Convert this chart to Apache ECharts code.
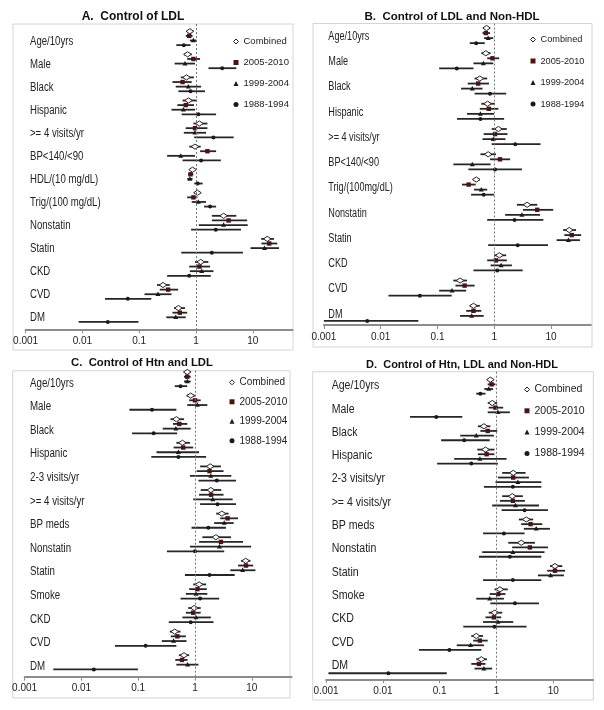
<!DOCTYPE html>
<html>
<head>
<meta charset="utf-8">
<script src="https://cdn.jsdelivr.net/npm/echarts@6/dist/echarts.min.js"></script>
<style>
html, body { margin: 0; padding: 0; background: #fff; }
#main { width: 604px; height: 710px; }
</style>
</head>
<body>
<div id="main"></div>
<script>
// 类别
var catsA = ['Age/10yrs', 'Male', 'Black', 'Hispanic', '>= 4 visits/yr', 'BP<140/<90', 'HDL/(10 mg/dL)', 'Trig/(100 mg/dL)', 'Nonstatin', 'Statin', 'CKD', 'CVD', 'DM'];
var catsB = ['Age/10yrs', 'Male', 'Black', 'Hispanic', '>= 4 visits/yr', 'BP<140/<90', 'Trig/(100mg/dL)', 'Nonstatin', 'Statin', 'CKD', 'CVD', 'DM'];
var catsC = ['Age/10yrs', 'Male', 'Black', 'Hispanic', '2-3 visits/yr', '>= 4 visits/yr', 'BP meds', 'Nonstatin', 'Statin', 'Smoke', 'CKD', 'CVD', 'DM'];
var catsD = ['Age/10yrs', 'Male', 'Black', 'Hispanic', '2-3 visits/yr', '>= 4 visits/yr', 'BP meds', 'Nonstatin', 'Statin', 'Smoke', 'CKD', 'CVD', 'DM'];

var periods = ['Combined', '2005-2010', '1999-2004', '1988-1994'];
var tickVals = [0.001, 0.01, 0.1, 1, 10];
var tickLabels = ['0.001', '0.01', '0.1', '1', '10'];

// [OR, lower, upper]
// A. Control of LDL
var aComb = [[0.78,0.70,0.90],[0.71,0.61,0.84],[0.68,0.54,0.92],[0.74,0.58,1.03],[1.15,0.90,1.59],[0.96,0.76,1.21],[0.87,0.80,0.96],[1.06,0.93,1.18],[3.06,1.90,5.13],[17.96,14.06,23.6],[1.21,0.96,1.65],[0.263,0.206,0.345],[0.49,0.41,0.64]];
var a2005 = [[0.76,0.66,0.87],[0.90,0.70,1.18],[0.58,0.385,0.84],[0.66,0.47,0.92],[0.96,0.66,1.59],[1.59,1.18,2.26],[0.80,0.73,0.90],[0.90,0.70,1.06],[3.75,1.90,7.94],[19.5,14.2,27.0],[1.15,0.76,1.77],[0.323,0.23,0.486],[0.52,0.385,0.70]];
var a1999 = [[0.90,0.78,1.03],[0.64,0.42,0.96],[0.73,0.44,1.23],[0.60,0.37,0.96],[0.96,0.61,1.50],[0.54,0.31,0.96],[0.78,0.70,0.87],[1.10,0.84,1.50],[3.06,1.12,8.15],[16.1,9.1,29.0],[1.26,0.78,2.03],[0.214,0.124,0.37],[0.44,0.30,0.66]];
var a1988 = [[0.61,0.45,0.80],[2.89,1.66,5.13],[0.80,0.49,1.44],[1.10,0.56,2.26],[2.03,0.93,4.60],[1.23,0.58,2.74],[1.07,0.93,1.31],[1.77,1.39,2.26],[2.23,0.82,6.2],[1.90,0.55,6.7],[0.76,0.31,1.82],[0.063,0.025,0.163],[0.028,0.0086,0.097]];

// B. Control of LDL and Non-HDL
var bComb = [[0.73,0.65,0.81],[0.71,0.59,0.86],[0.555,0.45,0.75],[0.76,0.59,1.03],[1.18,0.90,1.66],[0.78,0.57,1.07],[0.48,0.42,0.555],[3.78,2.5,5.7],[20.9,16.3,27.5],[1.23,0.99,1.62],[0.25,0.19,0.33],[0.43,0.37,0.555]];
var b2005 = [[0.71,0.62,0.84],[0.93,0.75,1.22],[0.52,0.34,0.81],[0.80,0.555,1.18],[1.03,0.65,1.71],[1.26,0.84,1.90],[0.353,0.27,0.47],[5.7,3.2,10.9],[23.1,17.1,33.8],[1.07,0.75,1.66],[0.30,0.207,0.45],[0.43,0.32,0.59]];
var b1999 = [[0.78,0.66,0.96],[0.64,0.43,0.96],[0.41,0.26,0.62],[0.57,0.33,0.99],[0.96,0.62,1.57],[0.41,0.19,0.86],[0.59,0.44,0.75],[3.07,1.55,6.4],[20.2,12.5,32.2],[1.32,0.86,2.04],[0.18,0.107,0.32],[0.40,0.25,0.65]];
var b1988 = [[0.48,0.37,0.68],[0.218,0.107,0.43],[0.84,0.45,1.62],[0.57,0.22,1.49],[2.34,0.90,6.5],[1.03,0.35,3.07],[0.65,0.39,0.99],[2.27,0.75,7.3],[2.58,0.78,8.83],[1.13,0.43,3.16],[0.049,0.0137,0.178],[0.0058,0.001,0.046]];

// C. Control of Htn and LDL
var cComb = [[0.73,0.66,0.815],[0.84,0.71,1.0],[0.47,0.37,0.64],[0.60,0.47,0.815],[1.85,1.23,2.86],[1.90,1.26,2.9],[2.97,2.36,3.9],[2.33,1.35,4.3],[7.8,6.47,9.46],[1.18,0.93,1.57],[0.97,0.76,1.26],[0.44,0.36,0.556],[0.64,0.52,0.79]];
var c2005 = [[0.73,0.64,0.84],[1.0,0.79,1.26],[0.53,0.41,0.73],[0.62,0.42,0.93],[1.80,1.07,3.18],[1.92,1.18,3.18],[3.75,2.78,5.73],[2.86,1.18,7.0],[7.9,5.73,10.6],[1.10,0.79,1.61],[0.93,0.69,1.26],[0.49,0.375,0.69],[0.59,0.45,0.74]];
var c1999 = [[0.73,0.64,0.84],[1.10,0.73,1.65],[0.46,0.27,0.84],[0.51,0.21,1.18],[1.90,0.815,4.36],[2.06,0.93,4.6],[3.27,2.17,4.8],[2.7,0.815,9.7],[6.9,4.18,11.6],[1.04,0.69,1.65],[1.04,0.60,1.9],[0.42,0.26,0.71],[0.74,0.47,1.15]];
var c1988 = [[0.556,0.44,0.73],[0.175,0.07,0.47],[0.187,0.078,0.486],[0.51,0.17,1.57],[2.42,1.15,5.27],[2.49,1.23,5.27],[1.72,0.87,3.5],[1.0,0.32,3.27],[1.8,0.665,5.0],[1.23,0.556,2.67],[0.84,0.345,2.12],[0.135,0.039,0.47],[0.0166,0.0032,0.099]];

// D. Control of Htn, LDL and Non-HDL
var dComb = [[0.78,0.70,0.87],[0.84,0.70,1.03],[0.60,0.47,0.78],[0.64,0.46,0.92],[1.97,1.26,3.25],[1.89,1.26,2.91],[3.34,2.48,4.43],[2.72,1.61,4.75],[10.7,8.74,14.4],[1.15,0.92,1.58],[0.93,0.73,1.26],[0.44,0.36,0.58],[0.54,0.44,0.68]];
var d2005 = [[0.82,0.70,0.96],[0.96,0.73,1.31],[0.70,0.52,1.03],[0.67,0.47,0.92],[1.97,1.06,3.72],[1.94,1.15,3.16],[3.98,2.72,6.4],[3.87,1.89,8.05],[10.7,7.8,16.1],[1.07,0.76,1.44],[0.90,0.64,1.21],[0.51,0.39,0.70],[0.49,0.36,0.64]];
var d1999 = [[0.73,0.61,0.87],[1.06,0.70,1.72],[0.44,0.23,0.90],[0.51,0.18,1.5],[2.38,0.96,6.15],[2.16,0.84,5.6],[5.0,3.03,8.74],[1.94,0.56,7.0],[8.95,5.36,15.4],[0.76,0.44,1.35],[1.06,0.58,1.97],[0.35,0.20,0.60],[0.60,0.41,0.84]];
var d1988 = [[0.52,0.44,0.64],[0.087,0.03,0.25],[0.27,0.106,0.76],[0.36,0.09,1.06],[1.94,0.60,6.15],[3.12,1.23,8.05],[1.35,0.58,3.12],[1.72,0.49,6.15],[1.94,0.58,6.15],[2.11,0.78,5.6],[0.92,0.26,3.38],[0.148,0.043,0.54],[0.0125,0.0011,0.133]];

var font = "'Liberation Sans', Arial, sans-serif";

// 每个小图的布局
var panels = [
    { title: 'A.  Control of LDL', cats: catsA, data: [aComb, a2005, a1999, a1988],
      grid: { left: 25.6, top: 24, width: 266.9, height: 305.3 }, yMin: -0.316, yMax: 12.92,
      labOff: 0.43, labDx: 4.4, labScale: 0.8, legFont: 9.5, frame: [13, 24, 280, 326], tx: 133, ty: 17, tsize: 12,
      legend: { left: 233, top: 36.5, gap: 11 } },
    { title: 'B.  Control of LDL and Non-HDL', cats: catsB, data: [bComb, b2005, b1999, b1988],
      grid: { left: 323.9, top: 23.5, width: 266.9, height: 301.5 }, yMin: -0.178, yMax: 11.76,
      labOff: 0.34, labDx: 4.4, labScale: 0.76, legFont: 9.2, frame: [313, 23.5, 279, 323.5], tx: 452, ty: 17, tsize: 11.5,
      legend: { left: 530, top: 34.5, gap: 11.5 } },
    { title: 'C.  Control of Htn and LDL', cats: catsC, data: [cComb, c2005, c1999, c1988],
      grid: { left: 24.6, top: 370.7, width: 266.9, height: 306 }, yMin: -0.055, yMax: 12.91,
      labOff: 0.48, labDx: 5.4, labScale: 0.81, legFont: 10, frame: [12.7, 370.7, 277.3, 327.3], tx: 142, ty: 363, tsize: 11.3,
      legend: { left: 229, top: 377.3, gap: 9.5 } },
    { title: 'D.  Control of Htn, LDL and Non-HDL', cats: catsD, data: [dComb, d2005, d1999, d1988],
      grid: { left: 326.1, top: 371.7, width: 266.9, height: 307.6 }, yMin: -0.343, yMax: 12.86,
      labOff: 0.27, labDx: 5.6, labScale: 0.88, legFont: 10.5, frame: [312.7, 371.7, 280.6, 328.3], tx: 462, ty: 365, tsize: 11,
      legend: { left: 524, top: 384, gap: 10.3 } }
];

var markColor = ['#fff', '#4d1212', '#1a1a1a', '#1a1a1a'];

function marker(k, x, y) {
    if (k === 0) {
        return { type: 'polygon', shape: { points: [[x - 3.8, y], [x, y - 2.6], [x + 3.8, y], [x, y + 2.6]] },
                 style: { fill: '#fff', stroke: '#222', lineWidth: 1 } };
    }
    if (k === 1) {
        return { type: 'rect', shape: { x: x - 2.2, y: y - 2.2, width: 4.4, height: 4.4 }, style: { fill: markColor[1] } };
    }
    if (k === 2) {
        return { type: 'polygon', shape: { points: [[x, y - 2.7], [x + 2.5, y + 1.8], [x - 2.5, y + 1.8]] }, style: { fill: markColor[2] } };
    }
    return { type: 'circle', shape: { cx: x, cy: y, r: 2 }, style: { fill: markColor[3] } };
}

function errRender(k) {
    return function (params, api) {
        var y = api.value(3);
        var p = api.coord([api.value(0), y]);
        var a = api.coord([api.value(1), y]);
        var b = api.coord([api.value(2), y]);
        return {
            type: 'group',
            children: [
                { type: 'line', shape: { x1: a[0], y1: a[1], x2: b[0], y2: b[1] }, style: { stroke: '#262626', lineWidth: 1.8 } },
                marker(k, p[0], p[1])
            ]
        };
    };
}

var grids = [], xAxes = [], yAxes = [], series = [], legends = [], graphics = [];

panels.forEach(function (pn, g) {
    grids.push(pn.grid);

    xAxes.push({
        gridIndex: g, type: 'log', logBase: 10, min: 0.001, max: 50,
        axisLine: { show: true, onZero: false, lineStyle: { color: '#8c8c8c', width: 2 } },
        axisTick: { show: true, length: 4, customValues: tickVals, lineStyle: { color: '#8c8c8c' } },
        axisLabel: {
            customValues: tickVals, margin: 7, fontSize: 10, color: '#222', fontFamily: font,
            formatter: function (v) {
                var i = tickVals.indexOf(v);
                if (i < 0) i = Math.round(Math.log10(v)) + 3;
                return tickLabels[i] || '';
            }
        },
        splitLine: { show: false }
    });
    yAxes.push({ gridIndex: g, type: 'value', inverse: true, min: pn.yMin, max: pn.yMax, show: false });

    // 误差线 + 点
    periods.forEach(function (name, k) {
        series.push({
            type: 'custom', name: name, xAxisIndex: g, yAxisIndex: g,
            itemStyle: { color: markColor[k] },
            renderItem: errRender(k),
            encode: { x: [0, 1, 2], y: 3 },
            data: pn.data[k].map(function (d, i) { return [d[0], d[1], d[2], i + k * 0.2]; })
        });
    });

    // 类别文字（横向压缩，模仿原图的窄字体）
    series.push({
        type: 'custom', xAxisIndex: g, yAxisIndex: g, silent: true,
        encode: { x: 0, y: 1 },
        renderItem: function (params, api) {
            var p = api.coord([1, api.value(1) + pn.labOff]);
            return {
                type: 'text', x: params.coordSys.x + pn.labDx, y: p[1], scaleX: pn.labScale,
                style: { text: pn.cats[params.dataIndex], fontSize: 12, fontFamily: font, fill: '#222', align: 'left', verticalAlign: 'middle' }
            };
        },
        data: pn.cats.map(function (c, i) { return [1, i]; })
    });

    // x=1 虚线
    series.push({
        type: 'scatter', xAxisIndex: g, yAxisIndex: g, data: [], silent: true,
        markLine: {
            silent: true, symbol: ['none', 'none'], label: { show: false },
            lineStyle: { type: [2, 2], color: '#777', width: 1 },
            data: [{ xAxis: 1 }]
        }
    });

    legends.push({
        orient: 'vertical', left: pn.legend.left, top: pn.legend.top, itemGap: pn.legend.gap,
        itemWidth: 5, itemHeight: 5, selectedMode: false, padding: 0,
        textStyle: { fontSize: pn.legFont, fontFamily: font, color: '#222', lineHeight: 10 },
        data: [
            { name: 'Combined', icon: 'diamond', itemStyle: { color: '#fff', borderColor: '#222', borderWidth: 1 } },
            { name: '2005-2010', icon: 'rect', itemStyle: { color: markColor[1] } },
            { name: '1999-2004', icon: 'triangle', itemStyle: { color: markColor[2] } },
            { name: '1988-1994', icon: 'circle', itemStyle: { color: markColor[3] } }
        ]
    });

    graphics.push({
        type: 'rect', z: -1, shape: { x: pn.frame[0], y: pn.frame[1], width: pn.frame[2], height: pn.frame[3] },
        style: { fill: 'none', stroke: '#d4d4d4', lineWidth: 1 }
    });
    graphics.push({
        type: 'text', x: pn.tx, y: pn.ty,
        style: { text: pn.title, fontSize: pn.tsize, fontWeight: 'bold', fontFamily: font, fill: '#111', align: 'center', verticalAlign: 'middle' }
    });
});

var myChart = echarts.init(document.getElementById('main'));
myChart.setOption({
    animation: false,
    grid: grids,
    xAxis: xAxes,
    yAxis: yAxes,
    legend: legends,
    graphic: graphics,
    series: series
});
</script>
</body>
</html>
